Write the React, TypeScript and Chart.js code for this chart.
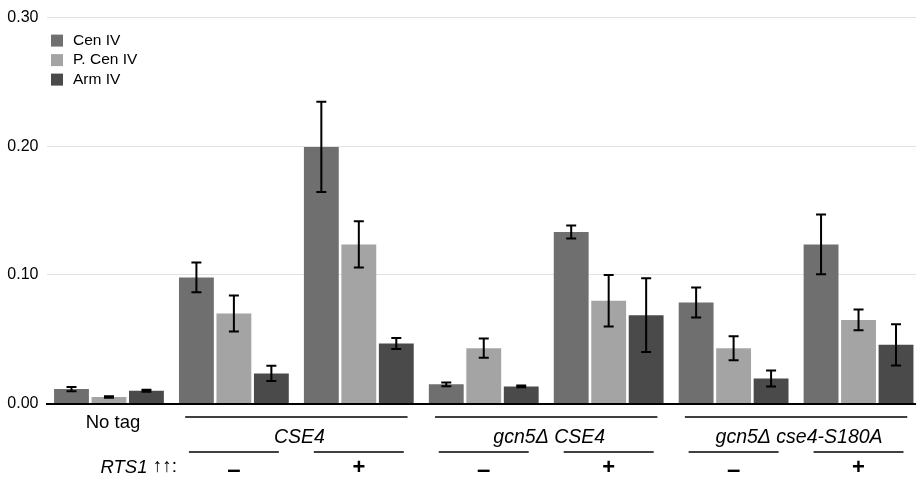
import React, { useEffect, useRef } from 'react';
import { Chart, registerables } from 'chart.js';

Chart.register(...registerables);

const categories = [
  'No tag',
  'CSE4 –',
  'CSE4 +',
  'gcn5Δ CSE4 –',
  'gcn5Δ CSE4 +',
  'gcn5Δ cse4-S180A –',
  'gcn5Δ cse4-S180A +',
];
const seriesNames = ['Cen IV', 'P. Cen IV', 'Arm IV'];
const seriesColors = ['#6f6f6f', '#a4a4a4', '#4a4a4a'];

const cenIV = [0.0112, 0.098, 0.1995, 0.0149, 0.1333, 0.0785, 0.1237];
const cenIVErr = [0.0017, 0.0116, 0.035, 0.0014, 0.005, 0.0116, 0.0232];
const pCenIV = [0.005, 0.07, 0.1237, 0.043, 0.0798, 0.043, 0.065];
const pCenIVErr = [0.0006, 0.014, 0.018, 0.0075, 0.02, 0.0093, 0.0081];
const armIV = [0.0099, 0.0234, 0.0467, 0.0133, 0.0687, 0.0195, 0.0456];
const armIVErr = [0.0007, 0.006, 0.0043, 0.0006, 0.0287, 0.0062, 0.016];

const yTicks = [0, 0.1, 0.2, 0.3];
const yMax = 0.3;

const singleLabel = { text: 'No tag', index: 0 };
const strainGroups = [
  { text: 'CSE4', from: 1, to: 2 },
  { text: 'gcn5Δ CSE4', from: 3, to: 4 },
  { text: 'gcn5Δ cse4-S180A', from: 5, to: 6 },
];
const rtsSigns = ['', '–', '+', '–', '+', '–', '+'];
const rtsGene = 'RTS1';
const rtsSuffix = ' ↑↑:';

const FONT = '"Liberation Sans", Arial, Helvetica, sans-serif';

const errorSets = [cenIVErr, pCenIVErr, armIVErr];
const valueSets = [cenIV, pCenIV, armIV];

const errorBarPlugin = {
  id: 'errorBars',
  afterDatasetsDraw(chart: any) {
    const ctx = chart.ctx;
    const y = chart.scales.y;
    ctx.save();
    ctx.strokeStyle = '#000';
    ctx.lineWidth = 2;
    chart.data.datasets.forEach((ds: any, di: number) => {
      const meta = chart.getDatasetMeta(di);
      meta.data.forEach((bar: any, i: number) => {
        const v = valueSets[di][i];
        const e = errorSets[di][i];
        const yt = y.getPixelForValue(v + e);
        const yb = y.getPixelForValue(v - e);
        const x = bar.x;
        ctx.beginPath();
        ctx.moveTo(x, yt);
        ctx.lineTo(x, yb);
        ctx.moveTo(x - 5, yt);
        ctx.lineTo(x + 5, yt);
        ctx.moveTo(x - 5, yb);
        ctx.lineTo(x + 5, yb);
        ctx.stroke();
      });
    });
    ctx.restore();
  },
};

const annotationPlugin = {
  id: 'annotations',
  afterDraw(chart: any) {
    const ctx = chart.ctx;
    const xs = chart.scales.x;
    const area = chart.chartArea;
    const cw = xs.width / categories.length;
    const cx = (i: number) => xs.getPixelForValue(i);
    const base = area.bottom;
    ctx.save();
    ctx.fillStyle = '#000';
    ctx.strokeStyle = '#000';
    ctx.lineWidth = 1.5;
    ctx.textBaseline = 'middle';
    ctx.textAlign = 'center';

    // No tag
    ctx.font = `18.5px ${FONT}`;
    ctx.fillText(singleLabel.text, cx(singleLabel.index) + 4, base + 19);

    // strain groups
    strainGroups.forEach((g) => {
      const x0 = cx(g.from) - 0.39 * cw;
      const x1 = cx(g.to) + 0.39 * cw;
      ctx.beginPath();
      ctx.moveTo(x0, base + 13.5);
      ctx.lineTo(x1, base + 13.5);
      ctx.stroke();
      ctx.font = `italic 19.5px ${FONT}`;
      ctx.fillText(g.text, (cx(g.from) + cx(g.to)) / 2 + 3, base + 34);
    });

    // RTS1 signs
    rtsSigns.forEach((s, i) => {
      if (!s) return;
      const c = cx(i);
      ctx.beginPath();
      ctx.moveTo(c - 0.36 * cw, base + 48.5);
      ctx.lineTo(c + 0.36 * cw, base + 48.5);
      ctx.stroke();
      ctx.font = s === '+' ? `bold 22px ${FONT}` : `bold 24px ${FONT}`;
      ctx.fillText(s, c, s === '+' ? base + 64 : base + 67);
    });

    // RTS1 label, right aligned
    const rightX = cx(0) + 0.545 * cw;
    ctx.textAlign = 'left';
    ctx.font = `19px ${FONT}`;
    const sufW = ctx.measureText(rtsSuffix).width;
    ctx.font = `italic 18.5px ${FONT}`;
    const geneW = ctx.measureText(rtsGene).width;
    const startX = rightX - sufW - geneW;
    ctx.fillText(rtsGene, startX, base + 64);
    ctx.font = `19px ${FONT}`;
    ctx.fillText(rtsSuffix, startX + geneW, base + 63);

    // legend
    ctx.font = `15.5px ${FONT}`;
    seriesNames.forEach((n, i) => {
      const yc = area.top + 23 + i * 19.5;
      ctx.fillStyle = seriesColors[i];
      ctx.fillRect(area.left + 4.5, yc - 6, 12, 12);
      ctx.fillStyle = '#000';
      ctx.fillText(n, area.left + 26.5, yc);
    });
    ctx.restore();
  },
};

export default function App() {
  const ref = useRef<HTMLCanvasElement | null>(null);
  useEffect(() => {
    if (!ref.current) return;
    const chart = new Chart(ref.current, {
      type: 'bar',
      data: {
        labels: categories,
        datasets: seriesNames.map((n, i) => ({
          label: n,
          data: valueSets[i],
          backgroundColor: seriesColors[i],
          borderWidth: 0,
          categoryPercentage: 0.9,
          barPercentage: 0.93,
        })),
      },
      options: {
        animation: false,
        responsive: false,
        devicePixelRatio: 1,
        layout: { padding: { top: 16, left: 0, right: 0, bottom: 0 } },
        plugins: {
          legend: { display: false },
          tooltip: { enabled: false },
          title: { display: false },
        },
        scales: {
          x: {
            type: 'category',
            ticks: { display: false },
            grid: { display: false },
            border: { display: true, color: '#000', width: 2 },
            afterFit: (s: any) => {
              s.height = 75.5;
            },
          },
          y: {
            min: 0,
            max: yMax,
            afterBuildTicks: (s: any) => {
              s.ticks = yTicks.map((v) => ({ value: v }));
            },
            ticks: {
              padding: 8,
              color: '#000',
              font: { family: FONT, size: 16 },
              callback: (v: any) => Number(v).toFixed(2),
            },
            grid: { color: '#e2e2e2', lineWidth: 1, drawTicks: false },
            border: { display: false },
            afterFit: (s: any) => {
              s.width = 46.5;
            },
          },
        },
      },
      plugins: [errorBarPlugin, annotationPlugin],
    } as any);
    return () => chart.destroy();
  }, []);

  return (
    <div style={{ position: 'fixed', left: 0, top: 0, width: 921, height: 479, background: '#fff' }}>
      <canvas ref={ref} width={921} height={479} style={{ width: 921, height: 479, display: 'block' }} />
    </div>
  );
}
